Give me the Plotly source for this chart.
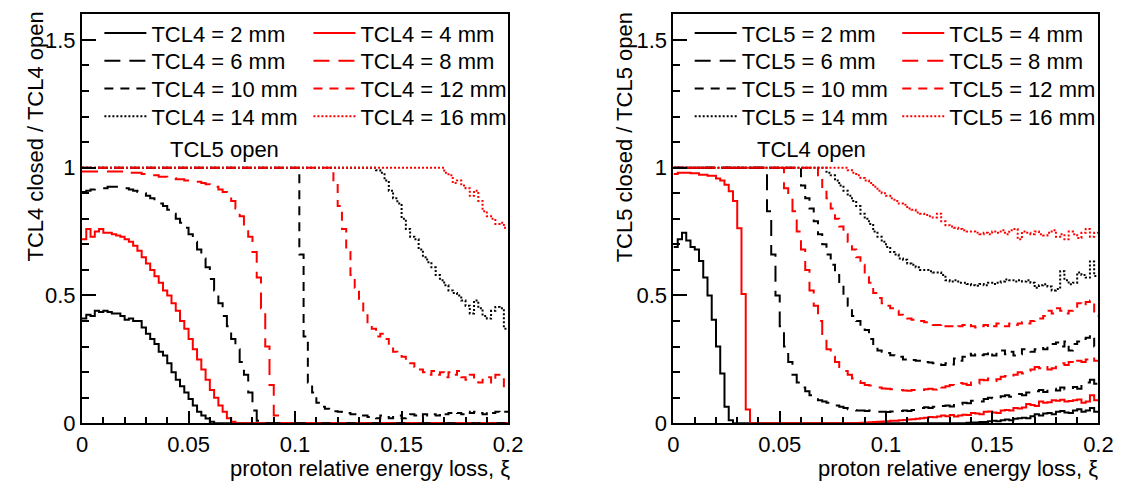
import plotly.graph_objects as go

# ---------------- data (bin contents, 100 bins of width 0.002 in xi from 0 to 0.2) ----------------
XI_MIN, XI_MAX, N_BINS = 0.0, 0.2, 100

# Left panel: TCL4 closed / TCL4 open  (TCL5 open)
tcl4_2mm = [0.41, 0.425, 0.42, 0.44, 0.435, 0.44, 0.435, 0.43, 0.43, 0.42,
            0.405, 0.41, 0.40, 0.40, 0.375, 0.35, 0.33, 0.31, 0.28, 0.265,
            0.235, 0.20, 0.17, 0.145, 0.12, 0.095, 0.07, 0.045, 0.03, 0.019,
            0.006, 0, 0, 0, 0, 0, 0, 0, 0, 0,
            0, 0, 0, 0, 0, 0, 0, 0, 0, 0,
            0, 0, 0, 0, 0, 0, 0, 0, 0, 0,
            0, 0, 0, 0, 0, 0, 0, 0, 0, 0,
            0, 0, 0, 0, 0, 0, 0, 0, 0, 0,
            0, 0, 0, 0, 0, 0, 0, 0, 0, 0,
            0, 0, 0, 0, 0, 0, 0, 0, 0, 0]
tcl4_4mm = [0.72, 0.76, 0.73, 0.75, 0.76, 0.745, 0.745, 0.74, 0.735, 0.73,
            0.72, 0.71, 0.695, 0.675, 0.65, 0.625, 0.60, 0.575, 0.55, 0.52,
            0.50, 0.47, 0.44, 0.40, 0.37, 0.33, 0.29, 0.25, 0.21, 0.17,
            0.13, 0.10, 0.07, 0.045, 0.02, 0.006, 0, 0, 0, 0,
            0, 0, 0, 0, 0, 0, 0, 0, 0, 0,
            0, 0, 0, 0, 0, 0, 0, 0, 0, 0,
            0, 0, 0, 0, 0, 0, 0, 0, 0, 0,
            0, 0, 0, 0, 0, 0, 0, 0, 0, 0,
            0, 0, 0, 0, 0, 0, 0, 0, 0, 0,
            0, 0, 0, 0, 0, 0, 0, 0, 0, 0]
tcl4_6mm = [0.905, 0.91, 0.915, 0.92, 0.92, 0.92, 0.925, 0.925, 0.925, 0.92,
            0.92, 0.915, 0.91, 0.905, 0.90, 0.89, 0.88, 0.87, 0.86, 0.85,
            0.835, 0.82, 0.80, 0.785, 0.765, 0.74, 0.71, 0.68, 0.645, 0.61,
            0.565, 0.52, 0.47, 0.42, 0.38, 0.33, 0.29, 0.24, 0.19, 0.12,
            0.05, 0.01, 0, 0, 0, 0, 0, 0, 0, 0,
            0, 0, 0, 0, 0, 0, 0, 0, 0, 0,
            0, 0, 0, 0, 0, 0, 0, 0, 0, 0,
            0, 0, 0, 0, 0, 0, 0, 0, 0, 0,
            0, 0, 0, 0, 0, 0, 0, 0, 0, 0,
            0, 0, 0, 0, 0, 0, 0, 0, 0, 0]
tcl4_8mm = [0.985, 0.985, 0.985, 0.985, 0.985, 0.985, 0.985, 0.985, 0.985, 0.985,
            0.98, 0.98, 0.98, 0.98, 0.975, 0.975, 0.97, 0.97, 0.965, 0.965,
            0.96, 0.96, 0.955, 0.955, 0.95, 0.95, 0.945, 0.945, 0.94, 0.935,
            0.93, 0.925, 0.915, 0.905, 0.89, 0.87, 0.84, 0.81, 0.77, 0.73,
            0.67, 0.57, 0.45, 0.30, 0.15, 0.03, 0, 0, 0, 0,
            0, 0, 0, 0, 0, 0, 0, 0, 0, 0,
            0, 0, 0, 0, 0, 0, 0, 0, 0, 0,
            0, 0, 0, 0, 0, 0, 0, 0, 0, 0,
            0, 0, 0, 0, 0, 0, 0, 0, 0, 0,
            0, 0, 0, 0, 0, 0, 0, 0, 0, 0]
tcl4_10mm = [1, 1, 1, 1, 1, 1, 1, 1, 1, 1,
             1, 1, 1, 1, 1, 1, 1, 1, 1, 1,
             1, 1, 1, 1, 1, 1, 1, 1, 1, 1,
             1, 1, 1, 1, 1, 1, 1, 1, 1, 1,
             1, 1, 1, 1, 1, 1, 1, 1, 1, 1,
             1, 0.66, 0.34, 0.16, 0.12, 0.08, 0.065, 0.057, 0.05, 0.047,
             0.045, 0.044, 0.04, 0.035, 0.035, 0.03, 0.03, 0.025, 0.025, 0.02,
             0.03, 0.025, 0.02, 0.025, 0.03, 0.02, 0.025, 0.035, 0.03, 0.025,
             0.035, 0.03, 0.035, 0.03, 0.04, 0.035, 0.04, 0.045, 0.04, 0.035,
             0.045, 0.04, 0.045, 0.04, 0.035, 0.045, 0.04, 0.045, 0.04, 0.045]
tcl4_12mm = [1, 1, 1, 1, 1, 1, 1, 1, 1, 1,
             1, 1, 1, 1, 1, 1, 1, 1, 1, 1,
             1, 1, 1, 1, 1, 1, 1, 1, 1, 1,
             1, 1, 1, 1, 1, 1, 1, 1, 1, 1,
             1, 1, 1, 1, 1, 1, 1, 1, 1, 1,
             1, 1, 1, 1, 1, 1, 1, 1, 1, 0.94,
             0.85, 0.76, 0.67, 0.58, 0.53, 0.48, 0.43, 0.39, 0.37, 0.34,
             0.35, 0.33, 0.30, 0.28, 0.27, 0.26, 0.245, 0.235, 0.22, 0.21,
             0.20, 0.19, 0.205, 0.19, 0.20, 0.18, 0.20, 0.19, 0.205, 0.18,
             0.17, 0.19, 0.17, 0.16, 0.17, 0.18, 0.16, 0.19, 0.19, 0.145]
tcl4_14mm = [1, 1, 1, 1, 1, 1, 1, 1, 1, 1,
             1, 1, 1, 1, 1, 1, 1, 1, 1, 1,
             1, 1, 1, 1, 1, 1, 1, 1, 1, 1,
             1, 1, 1, 1, 1, 1, 1, 1, 1, 1,
             1, 1, 1, 1, 1, 1, 1, 1, 1, 1,
             1, 1, 1, 1, 1, 1, 1, 1, 1, 1,
             1, 1, 1, 1, 1, 1, 1, 1, 1, 0.99,
             0.98, 0.95, 0.91, 0.88, 0.86, 0.80, 0.76, 0.73, 0.72, 0.68,
             0.65, 0.63, 0.61, 0.58, 0.56, 0.54, 0.52, 0.51, 0.50, 0.48,
             0.46, 0.43, 0.48, 0.45, 0.42, 0.41, 0.44, 0.455, 0.45, 0.37]
tcl4_16mm = [1, 1, 1, 1, 1, 1, 1, 1, 1, 1,
             1, 1, 1, 1, 1, 1, 1, 1, 1, 1,
             1, 1, 1, 1, 1, 1, 1, 1, 1, 1,
             1, 1, 1, 1, 1, 1, 1, 1, 1, 1,
             1, 1, 1, 1, 1, 1, 1, 1, 1, 1,
             1, 1, 1, 1, 1, 1, 1, 1, 1, 1,
             1, 1, 1, 1, 1, 1, 1, 1, 1, 1,
             1, 1, 1, 1, 1, 1, 1, 1, 1, 1,
             1, 1, 1, 1, 1, 0.98, 0.97, 0.94, 0.95, 0.93,
             0.92, 0.89, 0.91, 0.87, 0.83, 0.81, 0.80, 0.78, 0.785, 0.765]

# Right panel: TCL5 closed / TCL5 open  (TCL4 open)
tcl5_2mm = [0.69, 0.72, 0.745, 0.715, 0.69, 0.68, 0.635, 0.57, 0.50, 0.405,
            0.30, 0.195, 0.065, 0.012, 0, 0, 0, 0, 0, 0,
            0, 0, 0, 0, 0, 0, 0, 0, 0, 0,
            0, 0, 0, 0, 0, 0, 0, 0, 0, 0,
            0, 0, 0, 0, 0, 0, 0, 0, 0, 0,
            0, 0, 0, 0, 0, 0, 0, 0, 0, 0,
            0, 0, 0, 0, 0, 0, 0, 0, 0, 0.002,
            0.003, 0.003, 0.005, 0.005, 0.008, 0.01, 0.008, 0.012, 0.015, 0.012,
            0.018, 0.02, 0.022, 0.02, 0.028, 0.035, 0.03, 0.038, 0.04, 0.035,
            0.045, 0.048, 0.042, 0.04, 0.05, 0.055, 0.045, 0.05, 0.06, 0.045]
tcl5_4mm = [0.975, 0.98, 0.98, 0.98, 0.978, 0.978, 0.972, 0.972, 0.968, 0.968,
            0.958, 0.95, 0.933, 0.908, 0.87, 0.763, 0.506, 0.054, 0, 0,
            0, 0, 0, 0, 0, 0, 0, 0, 0, 0,
            0, 0, 0, 0, 0, 0, 0, 0, 0, 0,
            0, 0, 0, 0, 0.002, 0.003, 0.004, 0.005, 0.006, 0.007,
            0.008, 0.01, 0.01, 0.012, 0.013, 0.015, 0.016, 0.018, 0.02, 0.022,
            0.025, 0.024, 0.027, 0.03, 0.028, 0.032, 0.027, 0.03, 0.033, 0.032,
            0.04, 0.038, 0.035, 0.045, 0.046, 0.042, 0.04, 0.05, 0.052, 0.05,
            0.06, 0.058, 0.062, 0.075, 0.072, 0.068, 0.085, 0.08, 0.082, 0.09,
            0.088, 0.092, 0.085, 0.087, 0.09, 0.093, 0.08, 0.085, 0.11, 0.09]
tcl5_6mm = [1, 1, 1, 1, 1, 1, 1, 1, 1, 1,
            1, 1, 1, 1, 1, 1, 1, 1, 1, 1,
            1, 1, 0.83, 0.66, 0.50, 0.38, 0.30, 0.24, 0.19, 0.16,
            0.14, 0.125, 0.11, 0.10, 0.09, 0.085, 0.08, 0.072, 0.07, 0.065,
            0.06, 0.055, 0.052, 0.05, 0.05, 0.048, 0.05, 0.047, 0.045, 0.045,
            0.044, 0.046, 0.044, 0.048, 0.05, 0.048, 0.052, 0.055, 0.06, 0.063,
            0.06, 0.065, 0.062, 0.068, 0.07, 0.066, 0.076, 0.074, 0.08, 0.078,
            0.088, 0.09, 0.085, 0.095, 0.10, 0.098, 0.096, 0.106, 0.11, 0.104,
            0.112, 0.115, 0.11, 0.12, 0.118, 0.125, 0.13, 0.122, 0.133, 0.135,
            0.128, 0.14, 0.132, 0.138, 0.142, 0.135, 0.15, 0.16, 0.17, 0.155]
tcl5_8mm = [1, 1, 1, 1, 1, 1, 1, 1, 1, 1,
            1, 1, 1, 1, 1, 1, 1, 1, 1, 1,
            1, 1, 1, 1, 1, 1, 0.92, 0.88, 0.83, 0.75,
            0.68, 0.60, 0.52, 0.46, 0.40, 0.34, 0.29, 0.26, 0.24, 0.22,
            0.205, 0.19, 0.175, 0.165, 0.158, 0.15, 0.148, 0.14, 0.14, 0.136,
            0.135, 0.133, 0.132, 0.13, 0.128, 0.127, 0.13, 0.127, 0.13, 0.133,
            0.135, 0.132, 0.146, 0.14, 0.145, 0.15, 0.148, 0.158, 0.155, 0.15,
            0.16, 0.155, 0.17, 0.168, 0.175, 0.165, 0.172, 0.182, 0.185, 0.18,
            0.19, 0.20, 0.195, 0.205, 0.21, 0.22, 0.215, 0.225, 0.21, 0.215,
            0.23, 0.235, 0.228, 0.24, 0.23, 0.245, 0.24, 0.25, 0.26, 0.245]
tcl5_10mm = [1, 1, 1, 1, 1, 1, 1, 1, 1, 1,
             1, 1, 1, 1, 1, 1, 1, 1, 1, 1,
             1, 1, 1, 1, 1, 1, 1, 1, 1, 1,
             0.93, 0.88, 0.84, 0.79, 0.74, 0.70, 0.66, 0.62, 0.58, 0.54,
             0.50, 0.46, 0.42, 0.40, 0.38, 0.365, 0.33, 0.30, 0.285, 0.28,
             0.275, 0.266, 0.265, 0.26, 0.25, 0.247, 0.248, 0.245, 0.24, 0.24,
             0.238, 0.235, 0.23, 0.228, 0.235, 0.23, 0.253, 0.245, 0.26, 0.272,
             0.265, 0.27, 0.266, 0.27, 0.28, 0.265, 0.278, 0.285, 0.27, 0.28,
             0.265, 0.27, 0.29, 0.285, 0.28, 0.29, 0.295, 0.29, 0.30, 0.31,
             0.316, 0.30, 0.32, 0.285, 0.31, 0.32, 0.33, 0.335, 0.345, 0.30]
tcl5_12mm = [1, 1, 1, 1, 1, 1, 1, 1, 1, 1,
             1, 1, 1, 1, 1, 1, 1, 1, 1, 1,
             1, 1, 1, 1, 1, 1, 1, 1, 1, 1,
             1, 1, 1, 1, 0.96, 0.92, 0.88, 0.84, 0.80, 0.77,
             0.74, 0.71, 0.68, 0.65, 0.62, 0.59, 0.55, 0.51, 0.49, 0.47,
             0.46, 0.45, 0.44, 0.425, 0.415, 0.41, 0.405, 0.40, 0.40, 0.395,
             0.39, 0.385, 0.385, 0.39, 0.38, 0.38, 0.375, 0.38, 0.385, 0.39,
             0.38, 0.375, 0.38, 0.385, 0.375, 0.38, 0.39, 0.385, 0.38, 0.39,
             0.385, 0.39, 0.395, 0.39, 0.40, 0.405, 0.41, 0.42, 0.44, 0.43,
             0.45, 0.44, 0.43, 0.44, 0.445, 0.47, 0.46, 0.475, 0.48, 0.42]
tcl5_14mm = [1, 1, 1, 1, 1, 1, 1, 1, 1, 1,
             1, 1, 1, 1, 1, 1, 1, 1, 1, 1,
             1, 1, 1, 1, 1, 1, 1, 1, 1, 1,
             1, 1, 1, 1, 1, 1, 0.98, 0.97, 0.95, 0.93,
             0.91, 0.89, 0.87, 0.85, 0.82, 0.80, 0.78, 0.75, 0.73, 0.71,
             0.69, 0.67, 0.66, 0.645, 0.64, 0.625, 0.62, 0.61, 0.60, 0.60,
             0.595, 0.59, 0.59, 0.58, 0.56, 0.555, 0.56, 0.55, 0.55, 0.545,
             0.54, 0.538, 0.545, 0.54, 0.55, 0.545, 0.55, 0.555, 0.563, 0.56,
             0.555, 0.56, 0.555, 0.56, 0.55, 0.53, 0.54, 0.544, 0.535, 0.52,
             0.525, 0.595, 0.56, 0.544, 0.55, 0.59, 0.58, 0.57, 0.633, 0.576]
tcl5_16mm = [1, 1, 1, 1, 1, 1, 1, 1, 1, 1,
             1, 1, 1, 1, 1, 1, 1, 1, 1, 1,
             1, 1, 1, 1, 1, 1, 1, 1, 1, 1,
             1, 1, 1, 1, 1, 1, 1, 1, 1, 1,
             1, 0.99, 0.98, 0.97, 0.96, 0.95, 0.94, 0.925, 0.91, 0.90,
             0.89, 0.88, 0.87, 0.86, 0.855, 0.84, 0.835, 0.825, 0.82, 0.815,
             0.81, 0.805, 0.82, 0.79, 0.775, 0.77, 0.765, 0.76, 0.755, 0.75,
             0.75, 0.745, 0.74, 0.745, 0.74, 0.75, 0.745, 0.755, 0.74, 0.755,
             0.76, 0.72, 0.75, 0.745, 0.74, 0.75, 0.74, 0.735, 0.745, 0.755,
             0.73, 0.74, 0.72, 0.75, 0.74, 0.725, 0.745, 0.76, 0.73, 0.745]

gaps_mm = [2, 4, 6, 8, 10, 12, 14, 16]
left_series = [tcl4_2mm, tcl4_4mm, tcl4_6mm, tcl4_8mm, tcl4_10mm, tcl4_12mm, tcl4_14mm, tcl4_16mm]
right_series = [tcl5_2mm, tcl5_4mm, tcl5_6mm, tcl5_8mm, tcl5_10mm, tcl5_12mm, tcl5_14mm, tcl5_16mm]

x_ticks = [0, 0.05, 0.1, 0.15, 0.2]
y_ticks = [0, 0.5, 1, 1.5]

# ---------------- styling ----------------
W, H = 1128, 486
FONT = "Liberation Sans, Arial, Helvetica, sans-serif"
FS = 22
colors = ["black", "red"] * 4
dashes = ["solid", "solid", "16px,9px", "16px,9px", "9px,7px", "9px,7px", "2px,2px", "2px,2px"]

def px(x):
    return x / W

def py(y):
    return 1 - y / H

bin_w = (XI_MAX - XI_MIN) / N_BINS
edges = [round(XI_MIN + i * bin_w, 6) for i in range(N_BINS + 1)]

fig = go.Figure()

panels = [dict(series=left_series, name="TCL4", xa="x", ya="y"),
          dict(series=right_series, name="TCL5", xa="x2", ya="y2")]

# legend box left edges (pixels) per panel/column and row centres
leg_cols = [[87, 300], [688.5, 900]]
leg_rows = [26, 54.5, 83, 111.5]

legend_layouts = {}
k = 0
for p_i, p in enumerate(panels):
    for i, vals in enumerate(p["series"]):
        k += 1
        lname = "legend" if k == 1 else f"legend{k}"
        fig.add_trace(go.Scatter(
            x=edges, y=list(vals) + [vals[-1]],
            mode="lines", line_shape="hv",
            line=dict(color=colors[i], width=2, dash=dashes[i]),
            name=f"{p['name']} = {gaps_mm[i]} mm",
            xaxis=p["xa"], yaxis=p["ya"],
            legend=lname, showlegend=True, hoverinfo="skip",
        ))
        col = i % 2
        row = i // 2
        legend_layouts[lname] = dict(
            x=px(leg_cols[p_i][col]), y=py(leg_rows[row]),
            xanchor="left", yanchor="middle",
            bgcolor="rgba(0,0,0,0)", borderwidth=0,
            font=dict(family=FONT, size=FS, color="black"),
            itemwidth=42,
        )

axis_common = dict(
    showgrid=False, zeroline=False, showline=True, mirror=True,
    linecolor="black", linewidth=2, ticks="inside", tickcolor="black",
    tickwidth=1.5, tickfont=dict(family=FONT, size=FS, color="black"),
)

xdom_left = [px(69.3), px(503.5)]
xdom_right = [px(672), px(1105)]
ydom = [py(426.7), py(6.5)]

minor_x = dict(ticks="inside", dtick=0.01, ticklen=6, tickcolor="black", tickwidth=1.5)
minor_y = dict(ticks="inside", dtick=0.1, ticklen=7, tickcolor="black", tickwidth=1.5)

fig.update_layout(
    width=W, height=H,
    margin=dict(l=0, r=0, t=0, b=0),
    paper_bgcolor="white", plot_bgcolor="white",
    font=dict(family=FONT, size=FS, color="black"),
    xaxis=dict(domain=xdom_left, range=[XI_MIN, XI_MAX], anchor="y",
               tickvals=x_ticks, ticklen=12, minor=minor_x, **axis_common),
    yaxis=dict(domain=ydom, range=[0, 1.6], anchor="x",
               tickvals=y_ticks, ticklen=14, minor=minor_y, **axis_common),
    xaxis2=dict(domain=xdom_right, range=[XI_MIN, XI_MAX], anchor="y2",
                tickvals=x_ticks, ticklen=12, minor=minor_x, **axis_common),
    yaxis2=dict(domain=ydom, range=[0, 1.6], anchor="x2",
                tickvals=y_ticks, ticklen=14, minor=minor_y, **axis_common),
    **legend_layouts,
)

ann_font = dict(family=FONT, size=FS, color="black")
annotations = [
    dict(text="TCL5 open", x=px(214), y=py(145), xanchor="center", yanchor="middle"),
    dict(text="TCL4 open", x=px(813), y=py(145), xanchor="center", yanchor="middle"),
    dict(text="proton relative energy loss, ξ", x=px(507), y=py(473), xanchor="right", yanchor="middle"),
    dict(text="proton relative energy loss, ξ", x=px(1107), y=py(473), xanchor="right", yanchor="middle"),
    dict(text="TCL4 closed / TCL4 open", x=px(22), y=py(2), xanchor="center", yanchor="top", textangle=-90),
    dict(text="TCL5 closed / TCL5 open", x=px(623), y=py(2), xanchor="center", yanchor="top", textangle=-90),
]
for a in annotations:
    a.update(xref="paper", yref="paper", showarrow=False, font=ann_font)
fig.update_layout(annotations=annotations)

fig.write_html("out.html")
